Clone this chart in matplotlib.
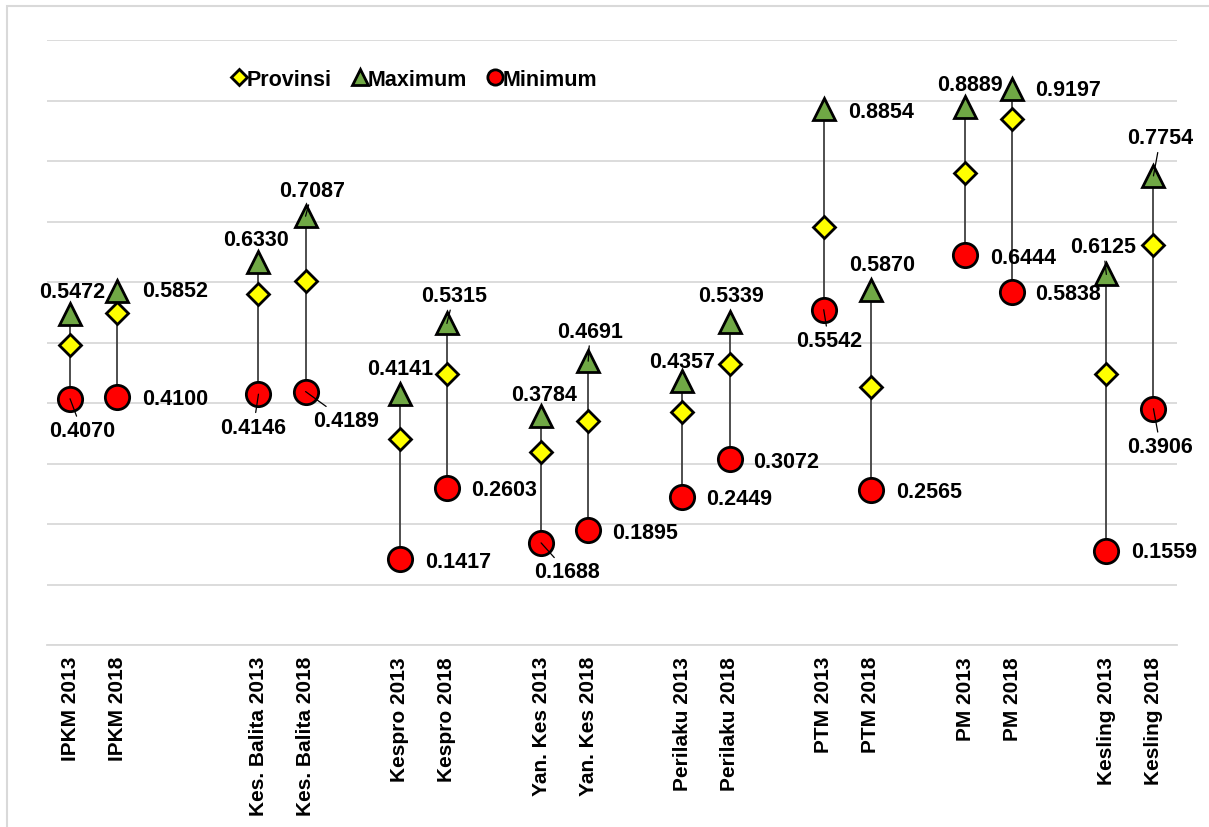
import matplotlib.pyplot as plt
from matplotlib.patches import Rectangle
from matplotlib.lines import Line2D

plt.rcParams['font.family'] = ['Liberation Sans', 'DejaVu Sans']

# data
labels = ['IPKM 2013', 'IPKM 2018', '', '',
          'Kes. Balita 2013', 'Kes. Balita 2018', '',
          'Kespro 2013', 'Kespro 2018', '',
          'Yan. Kes 2013', 'Yan. Kes 2018', '',
          'Perilaku 2013', 'Perilaku 2018', '',
          'PTM 2013', 'PTM 2018', '',
          'PM 2013', 'PM 2018', '',
          'Kesling 2013', 'Kesling 2018']
maximum = [0.5472, 0.5852, 0.6330, 0.7087, 0.4141, 0.5315, 0.3784, 0.4691,
           0.4357, 0.5339, 0.8854, 0.5870, 0.8889, 0.9197, 0.6125, 0.7754]
minimum = [0.4070, 0.4100, 0.4146, 0.4189, 0.1417, 0.2603, 0.1688, 0.1895,
           0.2449, 0.3072, 0.5542, 0.2565, 0.6444, 0.5838, 0.1559, 0.3906]
provinsi = [0.496, 0.549, 0.580, 0.602, 0.340, 0.448, 0.319, 0.370,
            0.385, 0.464, 0.691, 0.426, 0.780, 0.869, 0.448, 0.661]

# positions of the real categories (blank slots in between)
pos = [i for i, l in enumerate(labels) if l]

# label offsets in pixels (dx, dy) and whether a leader line is drawn
max_off = [(2, 22, 0), (58, 0, 0), (-2, 23, 0), (7, 26, 1), (0, 26, 0), (7, 28, 1),
           (3, 22, 0), (2, 30, 1), (0, 20, 0), (1, 26, 0), (57, -2, 0), (11, 25, 0),
           (5, 23, 0), (56, -1, 0), (-3, 28, 1), (7, 38, 1)]
min_off = [(12, -32, 1), (58, -2, 0), (-5, -33, 1), (40, -29, 1), (58, -2, 0), (57, -2, 0),
           (26, -29, 1), (57, -2, 0), (57, -2, 0), (57, -2, 0), (5, -31, 1), (58, -2, 0),
           (58, -2, 0), (56, -2, 0), (58, -1, 0), (7, -38, 1)]

fig = plt.figure(figsize=(12.09, 8.28), dpi=100)
ax = fig.add_axes([46.5 / 1209, 1 - 646 / 828, (1177 - 46.5) / 1209, (646 - 41) / 828])

fig.patches.append(Rectangle((7 / 1209, -0.1), 1.2, (828 - 7) / 828 + 0.1,
                             transform=fig.transFigure, fill=False,
                             edgecolor='#d9d9d9', lw=1.5))

for y in [i / 10 for i in range(11)]:
    ax.axhline(y, color='#d9d9d9', lw=1.3, zorder=0)

ax.vlines(pos, minimum, maximum, color='#404040', lw=1.3, zorder=1)
ax.plot(pos, provinsi, 'D', ms=11.5, mfc='#ffff00', mec='black', mew=2, zorder=3, ls='none')
ax.plot(pos, maximum, '^', ms=16, mfc='#70a845', mec='black', mew=2, zorder=3, ls='none')
ax.plot(pos, minimum, 'o', ms=17.5, mfc='#ff0000', mec='black', mew=2, zorder=3, ls='none')

def put_labels(vals, offs):
    for x, v, (dx, dy, lead) in zip(pos, vals, offs):
        arrow = dict(arrowstyle='-', color='black', lw=0.9, shrinkA=1, shrinkB=0) if lead else None
        ax.annotate(f'{v:.4f}', (x, v), xytext=(dx, dy), textcoords='offset pixels',
                    ha='center', va='center', fontsize=15.5, fontweight='bold',
                    arrowprops=arrow, zorder=4)

put_labels(maximum, max_off)
put_labels(minimum, min_off)

ax.set_xlim(-0.5, len(labels) - 0.5)
ax.set_ylim(0, 1)
ax.set_xticks(range(len(labels)))
ax.set_xticklabels(labels, rotation=90, fontsize=15, fontweight='bold', va='top')
ax.tick_params(axis='x', length=0, pad=8)
ax.set_yticks([])
for s in ['top', 'right', 'left']:
    ax.spines[s].set_visible(False)
ax.spines['bottom'].set_color('#d9d9d9')
ax.spines['bottom'].set_linewidth(1.3)

handles = [Line2D([], [], marker='D', ls='none', ms=8, mfc='#ffff00', mec='black', mew=2),
           Line2D([], [], marker='^', ls='none', ms=11, mfc='#70a845', mec='black', mew=2),
           Line2D([], [], marker='o', ls='none', ms=11, mfc='#ff0000', mec='black', mew=2)]
leg = ax.legend(handles, ['Provinsi', 'Maximum', 'Minimum'], ncol=3, frameon=False,
                loc='center', bbox_to_anchor=(415 / 1209, 1 - 80 / 828),
                bbox_transform=fig.transFigure, handlelength=0.6, handletextpad=0.05,
                columnspacing=1.0, prop={'size': 15.5, 'weight': 'bold'})

fig.savefig('out.png', dpi=100)
